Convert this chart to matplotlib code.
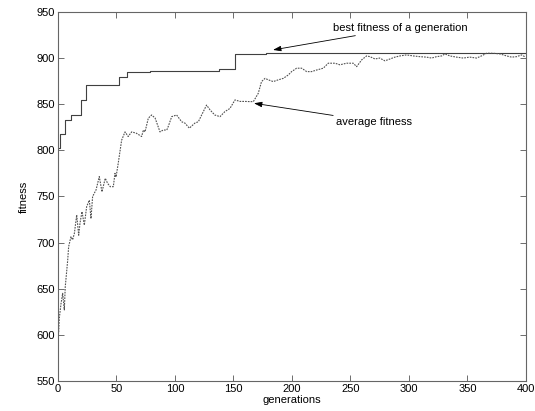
import matplotlib
matplotlib.use("Agg")
import matplotlib.pyplot as plt

plt.rcParams["font.family"] = ["Liberation Sans", "DejaVu Sans"]

# best fitness of a generation (step changes)
best_gen = [0, 2, 6, 11, 20, 24, 52, 59, 79, 138, 151, 178, 400]
best_val = [802, 818, 833, 838, 855, 871, 879, 885, 886.4, 887.6, 904, 905.5, 905.5]

# average fitness of the population
avg_gen = [0, 0.6, 1.1, 2.6, 4, 5.4, 6.2, 8.3, 9.1, 11.1, 12.5, 14, 16, 17.7, 18.8,
           20.5, 22.5, 24.5, 26.8, 28.2, 29.6, 32.5, 35.3, 37.6, 40.4, 42.5, 44.7,
           47.3, 48.7, 49.6, 51.5, 54.4, 57.3, 60, 63, 67, 71.5, 73, 74.4, 77.2, 80,
           83, 87.2, 90, 93, 94.3, 97.2, 101.4, 105.7, 108.5, 112.3, 117, 120, 122.8,
           127, 130, 134, 138.5, 142.7, 147, 151.3, 155.6, 159.8, 164, 167, 171.2,
           174, 177, 179.8, 184, 188.3, 192.6, 196.9, 199.7, 204, 208.3, 212.6, 216.8,
           221, 226.8, 231, 236.8, 241, 246.7, 252.4, 255.3, 259.6, 263.8, 266.7, 271,
           275, 279.5, 283.8, 288, 292.3, 298, 303.7, 309.4, 315, 319.4, 323.6, 328,
           330.8, 335, 340.7, 346.4, 352, 357.8, 362, 366.4, 372, 377.8, 383.5, 387.8,
           392, 396.3, 399]
avg_val = [597, 603.4, 618, 634, 645, 627, 652, 681, 695.6, 706.4, 703, 710, 730, 708,
           721, 733.5, 719, 739, 746, 726, 750, 757, 771.5, 755, 769.7, 764, 760.6,
           760.6, 775, 771, 786, 811, 820, 815, 820, 818.5, 815, 822, 820, 834.8, 838.3,
           835, 820, 822, 822, 826, 836.5, 838.3, 831, 829.5, 824, 829.5, 831, 838.3,
           849, 843.8, 838.3, 836.5, 842, 845.4, 854.6, 853, 853, 852.8, 852.8, 861.8,
           874.5, 878, 876.4, 874.5, 876.4, 878, 881.7, 885.3, 889, 889, 885.3, 885.3,
           887, 889, 894.4, 894.4, 892.7, 894.4, 894.4, 890.7, 898, 902.3, 901.5, 899,
           900, 897, 899, 901, 902.3, 903.4, 902.3, 901.5, 901, 900, 901.5, 902.3,
           904.5, 902.3, 901, 900, 901, 900, 902.3, 905.2, 905.2, 904.5, 902.3, 901,
           901.5, 903.4, 901.5]

fig = plt.figure(figsize=(5.35, 4.11), dpi=100)
ax = fig.add_axes([0.1084, 0.073, 0.8746, 0.898])

ax.plot(best_gen, best_val, drawstyle="steps-post", color="#404040", linewidth=0.8)
ax.plot(avg_gen, avg_val, linestyle=(0, (1.5, 1)), color="#505050", linewidth=0.8)

arrow = dict(arrowstyle="-|>,head_length=0.6,head_width=0.2", color="black",
             linewidth=0.6, shrinkA=0, shrinkB=0)
ax.annotate("best fitness of a generation", xy=(183.8, 908.8), xytext=(235, 932.7),
            fontsize=8, va="center", ha="left", arrowprops=arrow)
ax.annotate("average fitness", xy=(167.5, 851), xytext=(237.6, 831),
            fontsize=8, va="center", ha="left", arrowprops=arrow)

ax.set_xlim(0, 400)
ax.set_ylim(550, 950)
ax.set_xticks(range(0, 401, 50))
ax.set_yticks(range(550, 951, 50))
ax.tick_params(direction="in", top=True, right=True, labelsize=8, length=4,
               width=0.6, color="#555555", pad=2)
for s in ax.spines.values():
    s.set_color("#666666")
    s.set_linewidth(0.8)
ax.set_xlabel("generations", fontsize=8, labelpad=1)
ax.set_ylabel("fitness", fontsize=8, labelpad=6)

fig.savefig("out.png", dpi=100)
